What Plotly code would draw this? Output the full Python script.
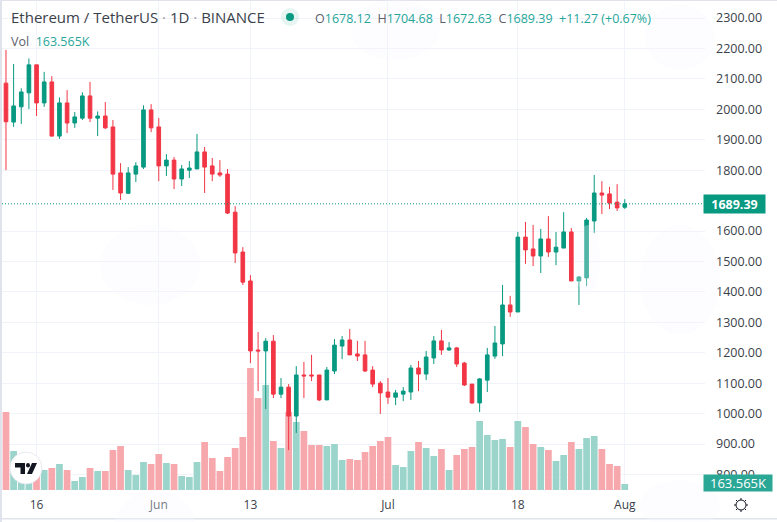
import pandas as pd
import plotly.graph_objs as go

# daily candles
dates = pd.date_range("2022-05-12", periods=82, freq="D")

opens = [2086, 1958, 2008, 2054, 2146, 2021, 2090, 1912, 2021, 1955, 1971, 2044, 1971, 1978, 1942, 1791, 1724,
         1787, 1810, 1998, 1942, 1814, 1833, 1771, 1800, 1804, 1860, 1814, 1791, 1787, 1662, 1531, 1436, 1209,
         1206, 1238, 1064, 1087, 992, 1127, 1127, 1127, 1045, 1140, 1222, 1242, 1196, 1193, 1143, 1100, 1071,
         1054, 1064, 1071, 1150, 1130, 1183, 1239, 1209, 1216, 1166, 1097, 1035, 1110, 1189, 1229, 1357, 1334,
         1580, 1541, 1518, 1574, 1531, 1544, 1597, 1436, 1446, 1633, 1725, 1722, 1695, 1678.12]
highs = [2195, 2149, 2069, 2167, 2146, 2123, 2109, 2039, 2063, 1991, 2056, 2090, 1993, 2024, 1965, 1823, 1810,
         1826, 2013, 2017, 1971, 1853, 1843, 1817, 1830, 1919, 1876, 1840, 1833, 1804, 1682, 1547, 1455, 1268,
         1248, 1258, 1117, 1097, 1156, 1170, 1193, 1127, 1153, 1245, 1255, 1278, 1239, 1239, 1156, 1107, 1117,
         1078, 1087, 1160, 1173, 1206, 1255, 1275, 1235, 1219, 1170, 1097, 1117, 1216, 1288, 1423, 1387, 1597,
         1630, 1620, 1607, 1649, 1597, 1662, 1610, 1452, 1643, 1784, 1764, 1745, 1754, 1704.68]
lows = [1800, 1942, 1952, 2001, 1978, 2008, 1910, 1903, 1922, 1939, 1965, 1958, 1912, 1935, 1735, 1702, 1722,
        1761, 1804, 1925, 1764, 1781, 1738, 1748, 1774, 1804, 1725, 1764, 1778, 1656, 1495, 1423, 1166, 1074,
        1015, 1051, 1051, 880, 936, 1051, 1107, 1041, 1045, 1130, 1179, 1193, 1173, 1137, 1087, 999, 1032,
        1028, 1041, 1045, 1074, 1110, 1163, 1193, 1206, 1153, 1091, 1032, 1005, 1071, 1180, 1189, 1318, 1334,
        1492, 1485, 1462, 1515, 1488, 1544, 1436, 1357, 1419, 1593, 1656, 1672, 1666, 1672.63]
closes = [1959, 2011, 2057, 2146, 2021, 2090, 1912, 2021, 1955, 1975, 2044, 1971, 1978, 1939, 1787, 1725, 1791,
          1814, 1998, 1939, 1814, 1833, 1771, 1804, 1807, 1860, 1810, 1787, 1784, 1659, 1528, 1432, 1206, 1206,
          1238, 1064, 1087, 992, 1127, 1124, 1124, 1045, 1143, 1225, 1242, 1193, 1189, 1140, 1097, 1068, 1054,
          1068, 1074, 1150, 1130, 1186, 1239, 1209, 1216, 1163, 1094, 1035, 1114, 1193, 1232, 1357, 1334, 1580,
          1538, 1518, 1574, 1531, 1547, 1597, 1436, 1449, 1636, 1725, 1718, 1692, 1676, 1689.39]
# volume in thousands
volumes = [2126, 1063, 818, 772, 727, 545, 600, 709, 545, 245, 354, 600, 518, 518, 1090, 1200, 545, 409, 763, 709,
           981, 736, 709, 382, 354, 763, 1309, 872, 518, 900, 1145, 1445, 3326, 2508, 2862, 1336, 1145, 2126, 1854,
           1608, 1227, 1227, 1200, 1254, 818, 845, 818, 1036, 1200, 1336, 1445, 682, 627, 1063, 1309, 1145, 927,
           1118, 545, 954, 1118, 1172, 1881, 1499, 1363, 1390, 1172, 1881, 1717, 1254, 1172, 1090, 791, 954, 1309,
           1118, 1418, 1472, 1118, 709, 654, 163.565]

# 1700 is hidden by the last price tag
price_ticks = [800, 900, 1000, 1100, 1200, 1300, 1400, 1500, 1600, 1800, 1900, 2000, 2100, 2200, 2300]
date_ticks = ["2022-05-16", "2022-06-01", "2022-06-13", "2022-07-01", "2022-07-18", "2022-08-01"]
date_labels = ["16", "Jun", "13", "Jul", "18", "Aug"]
last_price = 1689.39

GREEN = "#089981"
RED = "#F23645"
GRID = "#f0f3fa"
TEXT = "#3b3f4a"
MARK = "rgba(248,250,254,0.3)"

# plot area in page pixels
LEFT, RIGHT, TOP, BOTTOM = 2, 705, 2, 490


def px(x, y):
    return (x - LEFT) / (RIGHT - LEFT), (BOTTOM - y) / (BOTTOM - TOP)


def box(kind, x0, y0, x1, y1, **kw):
    a, b = px(x0, y0)
    c, d = px(x1, y1)
    return dict(type=kind, xref="paper", yref="paper", x0=a, y0=b, x1=c, y1=d, **kw)


def path(points, **kw):
    coords = [px(x, y) for x, y in points]
    d = "M" + " L".join(f"{a:.5f},{b:.5f}" for a, b in coords) + " Z"
    return dict(type="path", xref="paper", yref="paper", path=d, **kw)


def text(x, y, s, size=12.5, color=TEXT, anchor="left", **kw):
    a, b = px(x, y)
    return dict(xref="paper", yref="paper", x=a, y=b, text=s, showarrow=False, xanchor=anchor, yanchor="middle",
                font=dict(size=size, color=color), **kw)


fig = go.Figure()

vol_colors = ["#9ad4cb" if c >= o else "#f6a8ad" for o, c in zip(opens, closes)]
fig.add_trace(go.Bar(x=dates, y=volumes, marker=dict(color=vol_colors, line_width=0), yaxis="y", hoverinfo="skip"))

fig.add_trace(go.Candlestick(
    x=dates, open=opens, high=highs, low=lows, close=closes, yaxis="y2",
    increasing=dict(line=dict(color=GREEN, width=1), fillcolor=GREEN),
    decreasing=dict(line=dict(color=RED, width=1), fillcolor=RED),
    whiskerwidth=0,
))

shapes = [
    # last price line
    dict(type="line", xref="paper", yref="y2", x0=0, x1=1, y0=last_price, y1=last_price,
         line=dict(color=GREEN, width=1, dash="1px,2px")),
    # frame
    box("rect", 0, 0, 2, 522, fillcolor="#e0e3eb", line_width=0),
    box("rect", 0, 0, 777, 1, fillcolor="#e0e3eb", line_width=0),
    box("rect", 0, 518, 777, 519.5, fillcolor="#e0e3eb", line_width=0),
    # status dot
    box("circle", 281, 8, 299, 26, fillcolor="rgba(8,153,129,0.1)", line_width=0),
    box("circle", 286, 13, 294, 21, fillcolor=GREEN, line_width=0),
    # watermark
    box("circle", 100, 225, 200, 305, fillcolor=MARK, line_width=0, layer="above"),
    box("circle", 115, 490, 195, 560, fillcolor=MARK, line_width=0, layer="above"),
    box("circle", 350, 0, 440, 60, fillcolor=MARK, line_width=0, layer="above"),
    box("circle", 645, 5, 715, 70, fillcolor=MARK, line_width=0, layer="above"),
    box("circle", 640, 225, 720, 335, fillcolor=MARK, line_width=0, layer="above"),
    box("circle", 575, 225, 600, 295, fillcolor=MARK, line_width=0, layer="above"),
    box("circle", 640, 480, 720, 530, fillcolor=MARK, line_width=0, layer="above"),
    # logo
    box("circle", 10, 452, 42, 484, fillcolor="white", line=dict(color="#e8eaf0", width=1), layer="above"),
    path([(15, 463), (25, 463), (25, 474), (20.5, 474), (20.5, 467.5), (15, 467.5)], fillcolor="#131722",
         line_width=0, layer="above"),
    path([(32, 463), (37, 463), (32, 474), (27, 474)], fillcolor="#131722", line_width=0, layer="above"),
    box("circle", 26, 463, 30, 467.5, fillcolor="#131722", line_width=0, layer="above"),
    # settings icon
    box("circle", 736, 500, 746, 510, line=dict(color="#131722", width=1), layer="above"),
]
for dx, dy in [(0, -7), (0, 7), (-7, 0), (7, 0), (-5, -5), (5, -5), (-5, 5), (5, 5)]:
    shapes.append(dict(type="line", xref="paper", yref="paper",
                       x0=px(741 + dx * 0.72, 505 + dy * 0.72)[0], y0=px(741 + dx * 0.72, 505 + dy * 0.72)[1],
                       x1=px(741 + dx, 505 + dy)[0], y1=px(741 + dx, 505 + dy)[1],
                       line=dict(color="#131722", width=1)))

up = 'style="color:#26a69a"'
ohlc = (f'O<span {up}>1678.12</span>  H<span {up}>1704.68</span>  L<span {up}>1672.63</span>  '
        f'C<span {up}>1689.39</span>  <span {up}>+11.27 (+0.67%)</span>')

annotations = [
    text(9, 17, 'Ethereum / TetherUS <span style="color:#9598a1">·</span> 1D '
                '<span style="color:#9598a1">·</span> BINANCE', size=15),
    text(313, 18, ohlc, size=12.5, color="#5d606b"),
    text(9, 41, f'Vol  <span {up}>163.565K</span>', size=12.5, color="#5d606b"),
    dict(xref="paper", yref="y2", x=(734.5 - LEFT) / (RIGHT - LEFT), y=last_price, text=f"<b>{last_price}</b>",
         xanchor="center", yanchor="middle", showarrow=False, bgcolor=GREEN, width=59, height=16,
         font=dict(size=12.5, color="white")),
    dict(text(738, 483, "163.565K", size=13, color="white", anchor="center"), bgcolor="#2ba796", width=66, height=14),
]

fig.update_layout(
    width=777, height=522,
    margin=dict(l=LEFT, r=777 - RIGHT, t=TOP, b=522 - BOTTOM, autoexpand=False),
    paper_bgcolor="white", plot_bgcolor="white",
    showlegend=False,
    bargap=0.12, boxgap=0.32,
    font=dict(family="Open Sans, sans-serif", size=12.5, color=TEXT),
    xaxis=dict(type="date", range=["2022-05-11 11:30", "2022-08-11 12:00"], rangeslider=dict(visible=False),
               tickmode="array", tickvals=date_ticks, ticktext=date_labels, tickangle=0,
               showgrid=True, gridcolor=GRID, gridwidth=1, zeroline=False, showline=False, ticks="",
               ticklabelstandoff=6, tickfont=dict(size=12, color=TEXT)),
    yaxis=dict(range=[0, 13303], visible=False, fixedrange=True),
    yaxis2=dict(range=[749, 2352.6], overlaying="y", side="right", tickmode="array", tickvals=price_ticks,
                tickformat=".2f", showgrid=True, gridcolor=GRID, gridwidth=1, zeroline=False, showline=False,
                ticks="", ticklabelstandoff=10, tickfont=dict(size=12.5, color=TEXT)),
    shapes=shapes,
    annotations=annotations,
)

# the browser's default body margin would shift the whole chart
fig.write_html("out.html", config={"displayModeBar": False},
               post_script="document.body.style.margin = '0';")
